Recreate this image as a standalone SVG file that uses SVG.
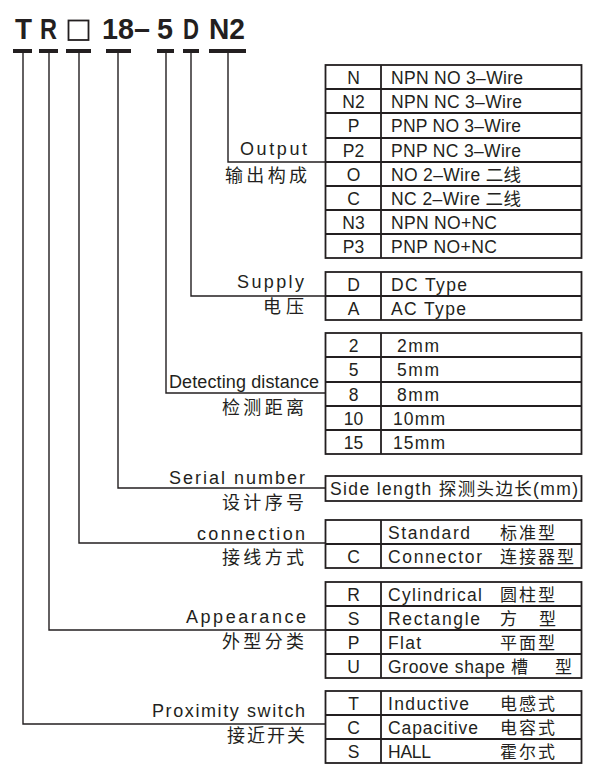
<svg xmlns="http://www.w3.org/2000/svg" width="600" height="780" viewBox="0 0 600 780">
<style>
.bg{fill:#ffffff}
text{fill:#231f20;font-family:"Liberation Sans",Arial,"Noto Sans CJK SC",sans-serif}
.ttl{font-size:29px;font-weight:bold}
.lb{font-size:18px}
.cj{font-size:18px;font-family:"Noto Sans CJK SC","Liberation Sans",sans-serif}
.cd{font-size:17.5px;text-anchor:middle}
.ds{font-size:17.5px}
.dc{font-size:17px;letter-spacing:2px;font-family:"Noto Sans CJK SC","Liberation Sans",sans-serif}
.bar{fill:#231f20}
.ln{fill:none;stroke:#231f20;stroke-width:1.4}
.tb{fill:none;stroke:#231f20;stroke-width:1.8}
</style>
<rect class="bg" x="0" y="0" width="600" height="780"/>

<g id="title">
<text class="ttl" x="15" y="39" textLength="17" lengthAdjust="spacingAndGlyphs">T</text>
<text class="ttl" x="40" y="39" textLength="17" lengthAdjust="spacingAndGlyphs">R</text>
<rect x="68.5" y="20.5" width="20" height="19.5" fill="none" stroke="#231f20" stroke-width="1.8"/>
<text class="ttl" x="102" y="39" textLength="48" lengthAdjust="spacingAndGlyphs">18–</text>
<text class="ttl" x="157" y="39" textLength="16" lengthAdjust="spacingAndGlyphs">5</text>
<text class="ttl" x="183" y="39" textLength="16" lengthAdjust="spacingAndGlyphs">D</text>
<text class="ttl" x="209" y="39" textLength="36" lengthAdjust="spacingAndGlyphs">N2</text>
<rect class="bar" x="13" y="49" width="19" height="4"/>
<rect class="bar" x="39" y="49" width="19" height="4"/>
<rect class="bar" x="66" y="49" width="25" height="4"/>
<rect class="bar" x="106" y="49" width="25" height="4"/>
<rect class="bar" x="157" y="49" width="17" height="4"/>
<rect class="bar" x="183" y="49" width="16" height="4"/>
<rect class="bar" x="209" y="49" width="37" height="4"/>
</g>

<g id="connectors">
<polyline class="ln" points="228,53 228,162 326,162"/>
<polyline class="ln" points="191,53 191,296 326,296"/>
<polyline class="ln" points="166,53 166,393 326,393"/>
<polyline class="ln" points="118,53 118,488 326,488"/>
<polyline class="ln" points="79,53 79,543 326,543"/>
<polyline class="ln" points="49,53 49,630 326,630"/>
<polyline class="ln" points="23,53 23,724 326,724"/>
</g>

<g id="output">
<text class="lb" x="240" y="155" textLength="67" lengthAdjust="spacing">Output</text>
<text class="cj" x="225" y="182" textLength="82" lengthAdjust="spacing">输出构成</text>
<rect class="tb" x="325.5" y="65" width="256" height="193"/>
<path class="tb" d="M325.5 89H581.5M325.5 113H581.5M325.5 138H581.5M325.5 162H581.5M325.5 186H581.5M325.5 210H581.5M325.5 234H581.5M381 65V258"/>
<text class="cd" x="353.5" y="84">N</text>
<text class="cd" x="353.5" y="108">N2</text>
<text class="cd" x="353.5" y="132">P</text>
<text class="cd" x="353.5" y="157">P2</text>
<text class="cd" x="353.5" y="181">O</text>
<text class="cd" x="353.5" y="205">C</text>
<text class="cd" x="353.5" y="229">N3</text>
<text class="cd" x="353.5" y="253">P3</text>
<text class="ds" x="391" y="84" textLength="132" lengthAdjust="spacing">NPN NO 3–Wire</text>
<text class="ds" x="391" y="108" textLength="131" lengthAdjust="spacing">NPN NC 3–Wire</text>
<text class="ds" x="391" y="132" textLength="130" lengthAdjust="spacing">PNP NO 3–Wire</text>
<text class="ds" x="391" y="157" textLength="130" lengthAdjust="spacing">PNP NC 3–Wire</text>
<text class="ds" x="391" y="181" textLength="130" lengthAdjust="spacing">NO 2–Wire 二线</text>
<text class="ds" x="391" y="205" textLength="130" lengthAdjust="spacing">NC 2–Wire 二线</text>
<text class="ds" x="391" y="229" textLength="106" lengthAdjust="spacing">NPN NO+NC</text>
<text class="ds" x="391" y="253" textLength="106" lengthAdjust="spacing">PNP NO+NC</text>
</g>

<g id="supply">
<text class="lb" x="237" y="288" textLength="67" lengthAdjust="spacing">Supply</text>
<text class="cj" x="263" y="313" textLength="41" lengthAdjust="spacing">电压</text>
<rect class="tb" x="325.5" y="272" width="256" height="48"/>
<path class="tb" d="M325.5 296H581.5M381 272V320"/>
<text class="cd" x="353.5" y="291">D</text>
<text class="cd" x="353.5" y="315">A</text>
<text class="ds" x="391" y="291" textLength="76" lengthAdjust="spacing">DC Type</text>
<text class="ds" x="391" y="315" textLength="75" lengthAdjust="spacing">AC Type</text>
</g>

<g id="distance">
<text class="lb" x="169" y="388" textLength="150" lengthAdjust="spacing">Detecting distance</text>
<text class="cj" x="222" y="414" textLength="82" lengthAdjust="spacing">检测距离</text>
<rect class="tb" x="325.5" y="333" width="256" height="121"/>
<path class="tb" d="M325.5 357H581.5M325.5 382H581.5M325.5 406H581.5M325.5 430H581.5M381 333V454"/>
<text class="cd" x="353.5" y="352">2</text>
<text class="cd" x="353.5" y="376">5</text>
<text class="cd" x="353.5" y="401">8</text>
<text class="cd" x="353.5" y="425">10</text>
<text class="cd" x="353.5" y="449">15</text>
<text class="ds" x="397" y="352" textLength="42" lengthAdjust="spacing">2mm</text>
<text class="ds" x="397" y="376" textLength="42" lengthAdjust="spacing">5mm</text>
<text class="ds" x="397" y="401" textLength="42" lengthAdjust="spacing">8mm</text>
<text class="ds" x="393" y="425" textLength="52" lengthAdjust="spacing">10mm</text>
<text class="ds" x="393" y="449" textLength="52" lengthAdjust="spacing">15mm</text>
</g>

<g id="serial">
<text class="lb" x="169" y="484" textLength="136" lengthAdjust="spacing">Serial number</text>
<text class="cj" x="222" y="509" textLength="82" lengthAdjust="spacing">设计序号</text>
<rect class="tb" x="325.5" y="476" width="256" height="25"/>
<text class="ds" x="330" y="495" textLength="248" lengthAdjust="spacing">Side length 探测头边长(mm)</text>
</g>

<g id="connection">
<text class="lb" x="197" y="539.5" textLength="108" lengthAdjust="spacing">connection</text>
<text class="cj" x="222" y="564" textLength="82" lengthAdjust="spacing">接线方式</text>
<rect class="tb" x="325.5" y="520" width="256" height="48"/>
<path class="tb" d="M325.5 544H581.5M381 520V568"/>
<text class="cd" x="353.5" y="563">C</text>
<text class="ds" x="388" y="539" textLength="82" lengthAdjust="spacing">Standard</text>
<text class="ds" x="388" y="563" textLength="94" lengthAdjust="spacing">Connector</text>
<text class="dc" x="500" y="539">标准型</text>
<text class="dc" x="500" y="563">连接器型</text>
</g>

<g id="appearance">
<text class="lb" x="186" y="623" textLength="120" lengthAdjust="spacing">Appearance</text>
<text class="cj" x="222" y="648" textLength="82" lengthAdjust="spacing">外型分类</text>
<rect class="tb" x="325.5" y="582" width="256" height="96"/>
<path class="tb" d="M325.5 606H581.5M325.5 630H581.5M325.5 654H581.5M381 582V678"/>
<text class="cd" x="353.5" y="601">R</text>
<text class="cd" x="353.5" y="625">S</text>
<text class="cd" x="353.5" y="649">P</text>
<text class="cd" x="353.5" y="673">U</text>
<text class="ds" x="388" y="601" textLength="94" lengthAdjust="spacing">Cylindrical</text>
<text class="ds" x="388" y="625" textLength="92" lengthAdjust="spacing">Rectangle</text>
<text class="ds" x="388" y="649" textLength="33" lengthAdjust="spacing">Flat</text>
<text class="ds" x="388" y="673" textLength="117" lengthAdjust="spacing">Groove shape</text>
<text class="dc" x="500" y="601">圆柱型</text>
<text class="dc" x="500" y="625">方<tspan x="539">型</tspan></text>
<text class="dc" x="500" y="649">平面型</text>
<text class="dc" x="511" y="673">槽<tspan x="555">型</tspan></text>
</g>

<g id="proximity">
<text class="lb" x="152" y="717" textLength="153" lengthAdjust="spacing">Proximity switch</text>
<text class="cj" x="227" y="742" textLength="78" lengthAdjust="spacing">接近开关</text>
<rect class="tb" x="325.5" y="691" width="256" height="72"/>
<path class="tb" d="M325.5 715H581.5M325.5 739H581.5M381 691V763"/>
<text class="cd" x="353.5" y="710">T</text>
<text class="cd" x="353.5" y="734">C</text>
<text class="cd" x="353.5" y="758">S</text>
<text class="ds" x="388" y="710" textLength="81" lengthAdjust="spacing">Inductive</text>
<text class="ds" x="388" y="734" textLength="90" lengthAdjust="spacing">Capacitive</text>
<text class="ds" x="388" y="758" textLength="43" lengthAdjust="spacing">HALL</text>
<text class="dc" x="500" y="710">电感式</text>
<text class="dc" x="500" y="734">电容式</text>
<text class="dc" x="500" y="758">霍尔式</text>
</g>
</svg>
